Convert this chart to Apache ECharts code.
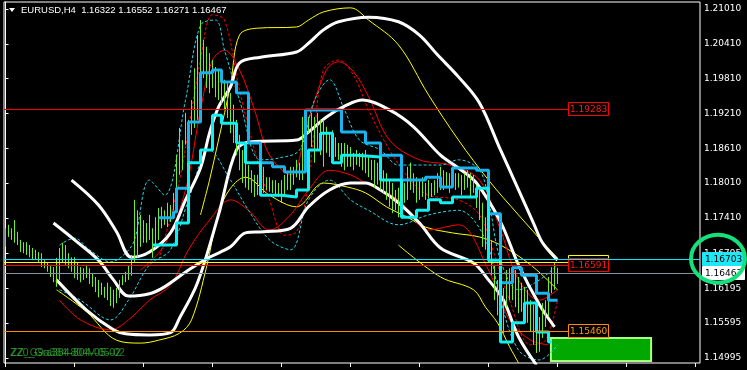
<!DOCTYPE html>
<html><head><meta charset="utf-8">
<script src="https://cdn.jsdelivr.net/npm/echarts@6/dist/echarts.min.js"></script>
<style>html,body{margin:0;padding:0;background:#000;}#c{width:747px;height:370px;}</style>
</head><body><div id="c"></div>
<script>
// ---- price bars (H4), bar index 0..184 ----
const barHigh = [1.1723,1.1729,1.1723,1.1737,1.1717,1.1703,1.1699,1.1699,1.1694,1.1689,1.1686,1.1682,1.1680,1.1668,1.1663,1.1660,1.1656,1.1672,1.1689,1.1698,
1.1694,1.1680,1.1673,1.1673,1.1665,1.1656,1.1654,1.1660,1.1654,1.1646,1.1639,1.1634,1.1629,1.1622,1.1629,1.1622,1.1617,1.1620,1.1634,1.1642,
1.1648,1.1658,1.1677,1.1772,1.1754,1.1746,1.1737,1.1732,1.1746,1.1723,1.1742,1.1758,1.1760,1.1754,1.1767,1.1763,1.1784,1.1849,1.1896,1.1875,
1.1922,1.1910,1.1944,1.1999,1.2056,1.2082,1.2048,1.2036,1.2025,1.2013,1.2001,1.1996,1.1984,1.1979,1.1973,1.1956,1.1936,1.1910,1.1884,1.1858,
1.1844,1.1832,1.1823,1.1815,1.1815,1.1820,1.1829,1.1811,1.1811,1.1806,1.1806,1.1801,1.1806,1.1815,1.1818,1.1829,1.1829,1.1841,1.1836,1.1915,
1.1922,1.1915,1.1922,1.1915,1.1922,1.1910,1.1910,1.1898,1.1887,1.1892,1.1880,1.1870,1.1870,1.1870,1.1867,1.1863,1.1853,1.1858,1.1853,1.1853,
1.1858,1.1846,1.1841,1.1841,1.1836,1.1829,1.1823,1.1818,1.1806,1.1801,1.1789,1.1793,1.1789,1.1801,1.1829,1.1836,1.1818,1.1811,1.1806,1.1811,
1.1801,1.1806,1.1801,1.1806,1.1818,1.1829,1.1823,1.1820,1.1818,1.1823,1.1818,1.1818,1.1815,1.1818,1.1823,1.1818,1.1815,1.1798,1.1789,1.1767,
1.1742,1.1720,1.1703,1.1660,1.1634,1.1639,1.1620,1.1651,1.1654,1.1642,1.1651,1.1639,1.1629,1.1622,1.1617,1.1599,1.1591,1.1579,1.1570,1.1594,
1.1599,1.1639,1.1656,1.1663,1.1655];
const barLow = [1.1691,1.1708,1.1703,1.1698,1.1694,1.1682,1.1680,1.1677,1.1673,1.1668,1.1668,1.1665,1.1656,1.1654,1.1648,1.1639,1.1630,1.1622,1.1634,1.1663,
1.1660,1.1654,1.1648,1.1637,1.1634,1.1630,1.1634,1.1637,1.1627,1.1622,1.1613,1.1604,1.1608,1.1603,1.1599,1.1589,1.1586,1.1594,1.1603,1.1625,
1.1630,1.1634,1.1641,1.1665,1.1673,1.1691,1.1698,1.1698,1.1703,1.1672,1.1689,1.1703,1.1723,1.1729,1.1725,1.1734,1.1754,1.1792,1.1815,1.1823,
1.1867,1.1841,1.1884,1.1896,1.1910,1.1965,1.1982,1.1965,1.1956,1.1965,1.1949,1.1944,1.1937,1.1927,1.1913,1.1887,1.1870,1.1849,1.1823,1.1801,
1.1793,1.1789,1.1784,1.1777,1.1780,1.1786,1.1784,1.1789,1.1786,1.1784,1.1780,1.1777,1.1767,1.1780,1.1789,1.1789,1.1798,1.1811,1.1806,1.1806,
1.1870,1.1887,1.1863,1.1836,1.1858,1.1849,1.1829,1.1853,1.1846,1.1846,1.1846,1.1841,1.1829,1.1823,1.1829,1.1829,1.1823,1.1832,1.1829,1.1823,
1.1818,1.1811,1.1806,1.1793,1.1798,1.1789,1.1784,1.1772,1.1760,1.1749,1.1754,1.1742,1.1751,1.1767,1.1772,1.1789,1.1784,1.1767,1.1772,1.1777,
1.1772,1.1775,1.1777,1.1780,1.1784,1.1789,1.1789,1.1792,1.1784,1.1793,1.1789,1.1793,1.1780,1.1789,1.1793,1.1777,1.1784,1.1758,1.1737,1.1691,
1.1686,1.1665,1.1642,1.1599,1.1573,1.1536,1.1542,1.1587,1.1599,1.1599,1.1587,1.1577,1.1579,1.1568,1.1560,1.1544,1.1522,1.1508,1.1510,1.1534,
1.1553,1.1570,1.1611,1.1617,1.1627];

// ---- indicator curves: [bar index, price] ----
const whiteUpper = [[22,1.1806],[31,1.1763],[37,1.1717],[42,1.1673],[48,1.1682],[55,1.1715],[60,1.1772],[65,1.1827],[68,1.1887],[71,1.1932],[75,1.1967],[78,1.2008],[85,1.2018],[97,1.2027],[101,1.2042],[106,1.2065],[111,1.2079],[121,1.2087],[131,1.2079],[138,1.2056],[144,1.2022],[151,1.1984],[158,1.1939],[165,1.1858],[170,1.1801],[176,1.1732],[179,1.1698],[184,1.1668]];
const whiteSlow = [[16,1.1732],[23,1.1703],[31,1.1668],[36,1.1634],[41,1.1606],[48,1.1610],[53,1.1622],[61,1.1651],[68,1.1673],[75,1.1691],[80,1.1715],[86,1.1717],[95,1.1723],[101,1.1760],[108,1.1789],[115,1.1801],[120,1.1801],[125,1.1789],[131,1.1767],[138,1.1732],[145,1.1689],[156,1.1663],[161,1.1634],[166,1.1599],[171,1.1536],[177,1.1487]];
const whiteFast = [[17,1.1634],[27,1.1582],[36,1.1548],[40,1.1541],[48,1.1539],[55,1.1543],[58,1.1568],[64,1.1629],[71,1.1746],[77,1.1858],[82,1.1872],[97,1.1875],[101,1.1889],[107,1.1915],[114,1.1936],[119,1.1944],[128,1.1927],[136,1.1898],[145,1.1849],[151,1.1827],[157,1.1801],[165,1.1734],[171,1.1660],[178,1.1591],[183,1.1553]];
const yellowUpper = [[65,1.1746],[68,1.1806],[71,1.1875],[75,1.1970],[78,1.2056],[84,1.2068],[97,1.2070],[101,1.2082],[106,1.2096],[115,1.2103],[121,1.2082],[131,1.2039],[141,1.1953],[151,1.1875],[161,1.1806],[171,1.1746],[180,1.1694],[184,1.1672]];
const yellowMid = [[17,1.1617],[27,1.1579],[37,1.1530],[45,1.1525],[51,1.1530],[58,1.1542],[62,1.1565],[67,1.1656],[71,1.1749],[75,1.1792],[80,1.1811],[88,1.1780],[97,1.1760],[106,1.1801],[114,1.1794],[120,1.1784],[127,1.1760],[134,1.1742],[140,1.1725],[149,1.1715],[158,1.1708],[165,1.1694],[175,1.1660],[184,1.1617]];
const yellowLower = [[131,1.1694],[145,1.1639],[156,1.1617],[160,1.1587],[164,1.1560],[168,1.1519],[171,1.1491]];
const redUpper = [[45,1.1651],[53,1.1694],[60,1.1789],[65,1.1927],[69,1.2013],[73,1.2030],[78,1.1996],[83,1.1927],[88,1.1849],[95,1.1815],[101,1.1910],[107,1.1996],[111,1.2010],[116,1.1993],[121,1.1950],[128,1.1875],[138,1.1841],[148,1.1832],[158,1.1806],[165,1.1720],[171,1.1634],[178,1.1599],[184,1.1617]];
const redLower = [[18,1.1599],[25,1.1565],[35,1.1548],[41,1.1565],[48,1.1599],[55,1.1625],[61,1.1686],[68,1.1737],[75,1.1772],[81,1.1754],[88,1.1720],[95,1.1746],[101,1.1789],[108,1.1823],[115,1.1815],[121,1.1798],[131,1.1772],[141,1.1720],[151,1.1729],[161,1.1651],[168,1.1565],[175,1.1530],[181,1.1522]];
const redDash = [[51,1.1668],[58,1.1806],[65,1.2013],[69,1.2091],[73,1.2082],[78,1.1961],[83,1.1858],[88,1.1772],[93,1.1711],[97,1.1717],[100,1.1772],[103,1.1892],[106,1.1996],[111,1.2013],[116,1.1987],[121,1.1927],[128,1.1858],[135,1.1806],[141,1.1780],[151,1.1772],[158,1.1746],[163,1.1677],[168,1.1599],[175,1.1522],[180,1.1530],[184,1.1599]];
const cyanDashUpper = [[18,1.1694],[23,1.1706],[28,1.1686],[35,1.1665],[40,1.1680],[43,1.1703],[48,1.1806],[53,1.1780],[60,1.1944],[65,1.2073],[70,1.2082],[73,1.2030],[78,1.1944],[85,1.1841],[91,1.1844],[98,1.1858],[103,1.1944],[108,1.1979],[113,1.1927],[118,1.1875],[125,1.1858],[131,1.1832],[138,1.1832],[145,1.1832],[151,1.1841],[158,1.1823],[161,1.1772],[165,1.1668],[171,1.1617],[178,1.1634],[184,1.1660]];
const cyanDashLower = [[18,1.1617],[25,1.1599],[35,1.1565],[41,1.1599],[48,1.1660],[55,1.1686],[61,1.1772],[68,1.1858],[75,1.1806],[81,1.1754],[88,1.1703],[95,1.1686],[101,1.1772],[108,1.1806],[115,1.1772],[121,1.1754],[131,1.1729],[141,1.1746],[151,1.1754],[160,1.1703],[165,1.1599],[171,1.1513],[178,1.1496],[184,1.1522]];
// step channels: [start bar, value]
const stepBlue = [[51,1.1741],[56,1.1751],[57,1.1792],[61,1.1906],[65,1.1991],[69,1.1996],[72,1.1975],[77,1.1956],[81,1.1870],[85,1.1836],[89,1.1829],[93,1.1820],[100,1.1927],[112,1.1889],[120,1.1870],[125,1.1849],[132,1.1806],[140,1.1811],[145,1.1794],[149,1.1827],[157,1.1823],[161,1.1748],[165,1.1629],[169,1.1655],[172,1.1642],[177,1.1611],[181,1.1599],[184,1.1599]];
const stepCyan = [[49,1.1694],[57,1.1732],[61,1.1836],[65,1.1858],[69,1.1918],[72,1.1904],[77,1.1870],[80,1.1836],[85,1.1780],[92,1.1777],[97,1.1789],[101,1.1858],[105,1.1887],[109,1.1836],[112,1.1849],[117,1.1846],[125,1.1806],[132,1.1742],[137,1.1754],[141,1.1772],[145,1.1767],[149,1.1777],[157,1.1792],[161,1.1668],[165,1.1527],[169,1.1560],[173,1.1594],[177,1.1544],[181,1.1527],[182,1.1527]];

// ---- levels & axis ----
const yTicks = [1.21010,1.20410,1.19810,1.19210,1.18610,1.18010,1.17410,1.16795,1.16195,1.15595,1.14995];
const xTicks = [-0.2,22.8,45.8,68.8,91.8,114.8,137.8,160.8,183.8,206.8,229.8];
const askPrice = 1.16703, bidPrice = 1.16467;
const levelPrices = [1.19283, 1.16640, 1.16591, 1.15460, 1.16467, 1.16703];
const labelEnd = 187.5;
const boxArea = [[181.8,1.1534],[215.2,1.1494]];
const titleText = 'EURUSD,H4  1.16322 1.16552 1.16271 1.16467';
const noteText1 = 'ZZ0_Gra384-804-05-02', noteText2 = 'ZZ_G9a384-804V-05-02';

// styles for the level lines (same order as levelPrices)
const levelStyles = [
  {c:'#ff0000', end:labelEnd, tc:'#ff1a1a', bg:'#000', bd:'#ff0000', axis:false},
  {c:'#ffff00', end:labelEnd, tc:'#ffff00', bg:'#000', bd:'#ffff00', axis:false},
  {c:'#ff0000', end:labelEnd, tc:'#ff1a1a', bg:'#000', bd:'#ff0000', axis:false},
  {c:'#ff8c00', end:labelEnd, tc:'#ff9a00', bg:'#000', bd:'#ff8c00', axis:false},
  {c:'#8494a0', end:231.5, tc:'#000', bg:'#ffffff', bd:null, axis:true},
  {c:'#00e8f8', end:231.5, tc:'#000', bg:'#1ee8f8', bd:null, axis:true}
];

const FONT = 'DejaVu Sans';
const chart = echarts.init(document.getElementById('c'), null, {renderer:'canvas'});

function curve(data, color, width, dashed, z){
  return {type:'line', data, showSymbol:false, smooth:0.35, silent:true, z,
    lineStyle:{color, width, opacity:1, type: dashed ? [3,2] : 'solid'}, animation:false};
}
function step(data, color, z){
  return {type:'line', data, step:'end', showSymbol:false, silent:true, z,
    lineStyle:{color, width:3, opacity:1}, animation:false};
}

const option = {
  backgroundColor:'#000',
  animation:false,
  grid:{left:4, right:47, top:2, bottom:7, show:true, borderColor:'#fff', borderWidth:1, backgroundColor:'transparent'},
  xAxis:{type:'value', min:-0.5, max:231.5, axisLine:{show:false}, splitLine:{show:false},
    axisTick:{show:true, customValues:xTicks, length:4, lineStyle:{color:'#fff'}},
    axisLabel:{show:false}},
  yAxis:{type:'value', position:'right', min:1.14907, max:1.21131, scale:true,
    axisLine:{show:true, lineStyle:{color:'#fff'}}, splitLine:{show:false},
    axisTick:{show:true, customValues:yTicks, length:3, lineStyle:{color:'#fff'}},
    axisLabel:{show:true, customValues:yTicks, color:'#fff', fontSize:9, fontFamily:FONT, margin:4,
      formatter:v=>v.toFixed(5)}},
  series:[
    curve(yellowUpper,'#ffff00',1,false,2),
    curve(yellowMid,'#ffff00',1,false,2),
    curve(yellowLower,'#ffff00',1,false,2),
    curve(redUpper,'#ff0000',1,false,2),
    curve(redLower,'#ff0000',1,false,2),
    curve(redDash,'#ff0000',1,true,2),
    curve(cyanDashUpper,'#22d8e8',1,true,2),
    curve(cyanDashLower,'#22d8e8',1,true,2),
    curve(whiteUpper,'#ffffff',3,false,3),
    curve(whiteSlow,'#ffffff',3,false,3),
    curve(whiteFast,'#ffffff',3,false,3),
    {type:'custom', z:4, silent:true, animation:false,
      data: barHigh.map((h,i)=>[i, barLow[i], h]),
      encode:{x:0, y:[1,2]},
      renderItem:(params, api)=>{
        const x = api.value(0);
        const p1 = api.coord([x, api.value(1)]);
        const p2 = api.coord([x, api.value(2)]);
        return {type:'line', shape:{x1:p1[0], y1:p1[1], x2:p2[0], y2:p2[1]},
          style:{stroke:'#70f020', lineWidth:1}};
      }},
    step(stepBlue,'#18b4f0',5),
    step(stepCyan,'#10f0f0',5),
    {type:'line', data:[], z:6, silent:true, animation:false,
      markArea:{silent:true, itemStyle:{color:'#00a800', borderColor:'#a8ff80', borderWidth:2, opacity:1},
        data:[[{coord:boxArea[0]},{coord:boxArea[1]}]]}},
    {type:'custom', z:7, silent:true, animation:false, clip:false,
      data: levelPrices.map(p=>[-0.5, p]),
      encode:{x:0, y:1},
      renderItem:(params, api)=>{
        const s = levelStyles[params.dataIndex];
        const p = api.value(1);
        const a = api.coord([api.value(0), p]);
        const b = api.coord([s.end, p]);
        const y = Math.round(a[1]) + 0.5;
        const bx = s.axis ? Math.round(b[0]) + 2 : Math.round(b[0]);
        const bw = s.axis ? 42 : 40;
        return {type:'group', children:[
          {type:'line', shape:{x1:a[0], y1:y, x2:b[0], y2:y}, style:{stroke:s.c, lineWidth:1}},
          {type:'rect', shape:{x:bx+0.5, y:y-7, width:bw, height:13},
            style:{fill:s.bg, stroke:s.bd || s.bg, lineWidth:1}},
          {type:'text', x:bx+bw/2+0.5, y:y, style:{text:p.toFixed(5), fill:s.tc, align:'center', verticalAlign:'middle', font:'9px '+FONT}}
        ]};
      }}
  ]
};
chart.setOption(option);

const askY = chart.convertToPixel({yAxisIndex:0}, askPrice);
chart.setOption({graphic:[
  {type:'polygon', shape:{points:[[9,8],[15,8],[12,12]]}, style:{fill:'#fff'}, z:10},
  {type:'text', left:21, top:5, style:{text:titleText, fill:'#fff', font:'9.5px "Liberation Sans"'}, z:10},
  {type:'text', left:10, top:348, style:{text:noteText1, fill:'#2c9c2c', font:'10.5px "Liberation Sans"', opacity:0.9}, z:10},
  {type:'text', left:11, top:348, style:{text:noteText2, fill:'#38a838', font:'10.5px "Liberation Sans"', opacity:0.7}, z:10},
  {type:'ellipse', shape:{cx:718, cy:askY, rx:27, ry:24}, style:{fill:'none', stroke:'#14e07c', lineWidth:4}, z:20}
]});
</script></body></html>
